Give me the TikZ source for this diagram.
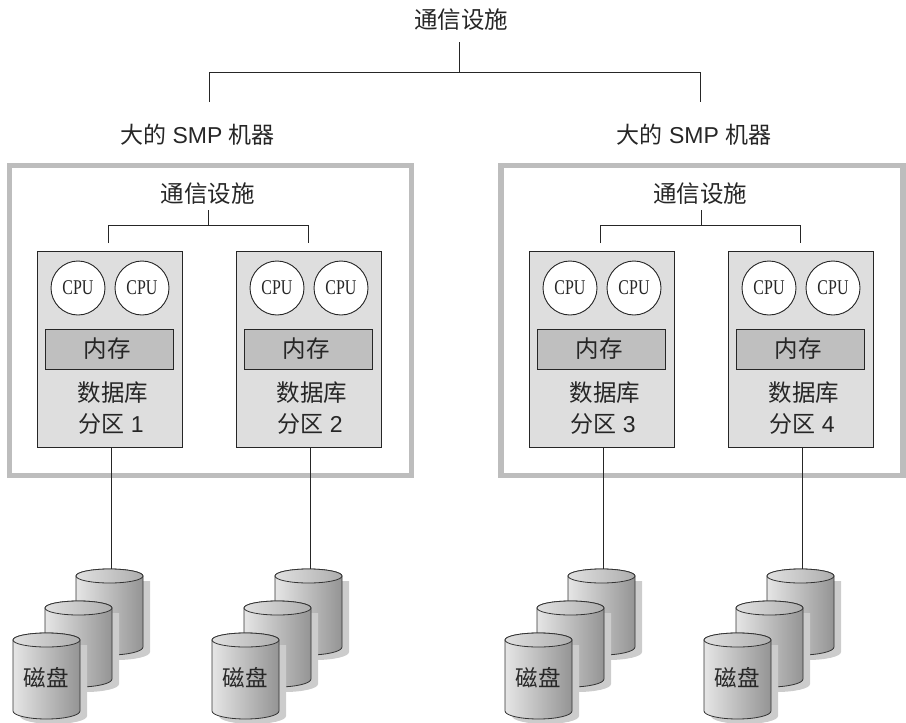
\documentclass[tikz,border=0pt]{standalone}
\usepackage{fontspec}
\setmainfont{Liberation Sans}
\newfontfamily\cjk{Noto Sans CJK SC}
\newfontfamily\cpufont[FakeStretch=0.76]{Liberation Serif}
\definecolor{framegray}{gray}{0.74}
\definecolor{partgray}{gray}{0.87}
\definecolor{memgray}{gray}{0.75}
\definecolor{linec}{gray}{0.15}
\tikzset{
  title/.style={font=\cjk\fontsize{23.5}{26}\selectfont,text=black!85,inner sep=0pt},
  labeltxt/.style={font=\fontsize{23}{26}\selectfont,text=black!85,inner sep=0pt},
  frame/.style={draw=framegray,line width=5.5pt,fill=white},
  partbox/.style={draw=linec,line width=0.9pt,fill=partgray},
  membox/.style={draw=linec,line width=0.9pt,fill=memgray,minimum width=128pt,minimum height=40pt,inner sep=0pt},
  cpu/.style={circle,draw=linec,line width=0.9pt,fill=white,minimum size=54pt,inner sep=0pt,font=\cpufont\fontsize{21}{24}\selectfont,text=black!85},
  wire/.style={draw=linec,line width=0.9pt},
  disktxt/.style={font=\cjk\fontsize{22.5}{26}\selectfont,text=black!85,inner sep=0pt}
}
\newcommand{\onecyl}[2]{%
  \fill[black!20] (#1+7,#2+5) -- ++(67,0) -- ++(0,71) arc[start angle=0,end angle=180,x radius=33.5,y radius=8] -- cycle;
  \path[draw=black!80,line width=0.8pt,left color=black!10,right color=black!42]
    (#1,#2) -- ++(0,71) arc[start angle=180,end angle=0,x radius=33.5,y radius=8] -- ++(0,-71) arc[start angle=0,end angle=-180,x radius=33.5,y radius=7] -- cycle;
  \path[draw=black!80,line width=0.8pt,left color=black!12,right color=black!32] (#1+33.5,#2) ellipse[x radius=33.5,y radius=7];
}
\newcommand{\diskstack}[2]{%
  \onecyl{#1+63}{576}
  \onecyl{#1+32}{608}
  \onecyl{#1}{640}
  \node[disktxt] (#2) at (#1+33,678) {磁盘};
  \coordinate (#2top) at (#1+98,569);
}
\newcommand{\partition}[2]{%
  \node[partbox,minimum width=145pt,minimum height=196pt,inner sep=0pt] (p#2) at (#1+72.5,349) {};
  \node[cpu] (c#2a) at (#1+41,288) {CPU};
  \node[cpu] (c#2b) at (#1+105,288) {CPU};
  \node[membox] (m#2) at (#1+72,349) {};
  \node[title] at (#1+70,349) {内存};
  \node[title] (d#2) at (#1+76,393) {数据库};
  \node[labeltxt] (e#2) at (#1+74,424) {{\cjk 分区} #2};
}
\begin{document}
\begin{tikzpicture}[x=1pt,y=-1pt]
\useasboundingbox (0,0) rectangle (906,723);
% top
\node[title] (top) at (461,20) {通信设施};
\node[labeltxt] (m1) at (197.5,135) {{\cjk 大的} SMP {\cjk 机器}};
\node[labeltxt] (m2) at (694,135) {{\cjk 大的} SMP {\cjk 机器}};
\coordinate (ta) at (209,102);
\coordinate (tb) at (700,102);
\draw[wire] (459.5,42) -- (459.5,72);
\draw[wire] (ta) -- (209,72) -- (700,72) -- (tb);
% frames
\node[frame,minimum width=402pt,minimum height=310pt,inner sep=0pt] (f1) at (210.5,320.5) {};
\node[frame,minimum width=402pt,minimum height=310pt,inner sep=0pt] (f2) at (702,320.5) {};
% comm
\node[title] (c1) at (207.5,194) {通信设施};
\node[title] (c2) at (700,194) {通信设施};
\draw[wire] (208.5,210) -- (208.5,225);
\draw[wire] (108.5,243) -- (108.5,225) -- (308.5,225) -- (308.5,243);
\draw[wire] (701,210) -- (701,225);
\draw[wire] (600.5,243) -- (600.5,225) -- (800.5,225) -- (800.5,243);
% partitions
\partition{37}{1}
\partition{236}{2}
\partition{529}{3}
\partition{728}{4}
% disks
\diskstack{13}{s1}
\diskstack{212}{s2}
\diskstack{505}{s3}
\diskstack{704}{s4}
\draw[wire] (p1.south -| 111,0) -- (s1top);
\draw[wire] (p2.south -| 310,0) -- (s2top);
\draw[wire] (p3.south -| 603,0) -- (s3top);
\draw[wire] (p4.south -| 802,0) -- (s4top);
\end{tikzpicture}
\end{document}
